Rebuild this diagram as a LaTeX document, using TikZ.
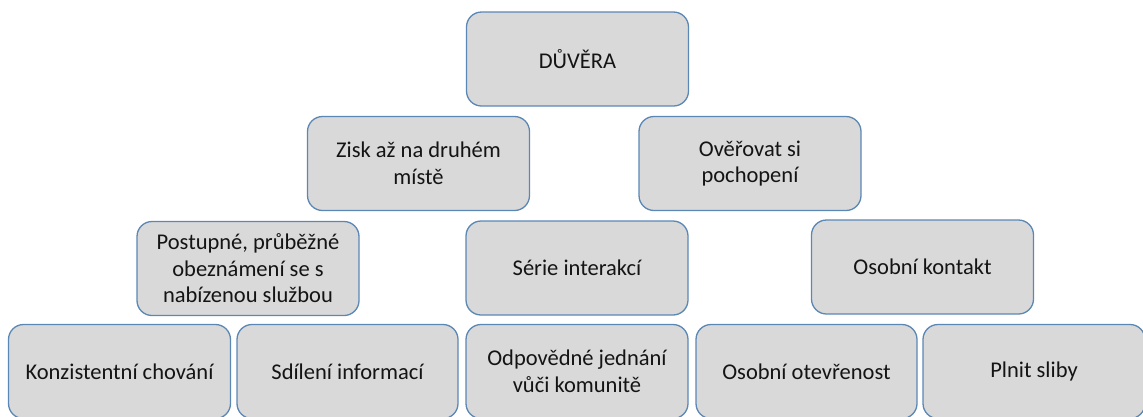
\documentclass[tikz,border=0pt]{standalone}
\usepackage{fontspec}
\setmainfont{Carlito}
\definecolor{boxfill}{HTML}{D9D9D9}
\definecolor{boxline}{HTML}{5B87B5}
\definecolor{txt}{HTML}{141414}
\begin{document}
\begin{tikzpicture}[x=1pt,y=-1pt,
  card/.style={draw=boxline, fill=boxfill, line width=1.3pt, rounded corners=15pt,
    minimum width=222pt, minimum height=94pt, inner sep=0pt, align=center,
    text=txt, font=\fontsize{22.5}{26.5}\selectfont}]
\useasboundingbox (0,0) rectangle (1143,416);
\node[card] (duvera) at (577.5,59) {DŮVĚRA};
\node[card] (zisk) at (418.5,163.5) {Zisk až na druhém\\místě};
\node[card] (overovat) at (750,163.5) {Ověřovat si\\pochopení};
\node[card] (postupne) at (248,268.5) {Postupné, průběžné\\obeznámení se s\\nabízenou službou};
\node[card] (serie) at (577,268) {Série interakcí};
\node[card] (kontakt) at (922.5,267) {Osobní kontakt};
\node[card] (konz) at (119.5,371.5) {Konzistentní chování};
\node[card, minimum width=221pt] (sdileni) at (347.5,371.5) {Sdílení informací};
\node[card] (odpov) at (577,371.5) {Odpovědné jednání\\vůči komunitě};
\node[card, minimum width=221pt] (otevr) at (806.5,371.5) {Osobní otevřenost};
\node[card] (plnit) at (1034,371.5) {Plnit sliby};
\end{tikzpicture}
\end{document}
